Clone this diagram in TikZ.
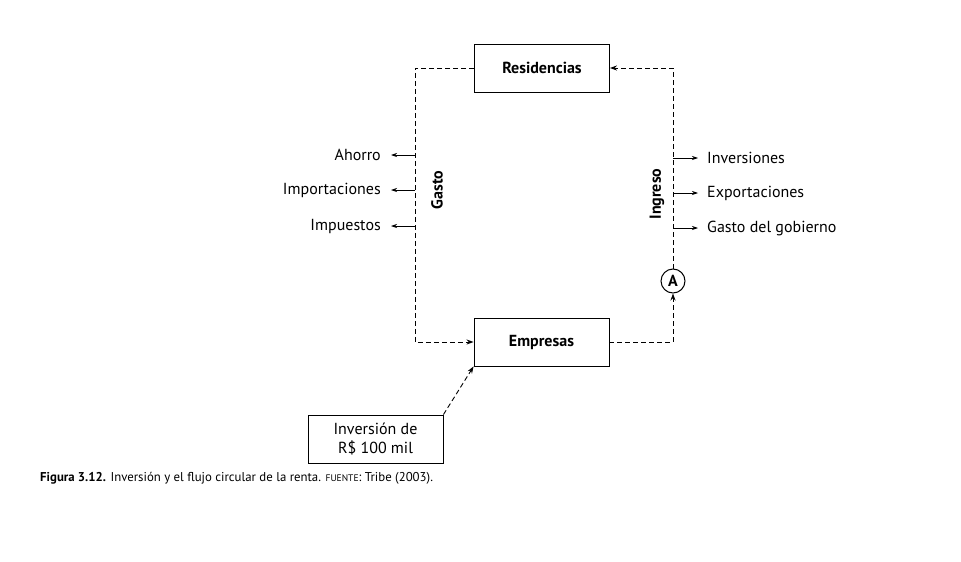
\documentclass[tikz,border=0pt]{standalone}
\usepackage{fontspec}
\setmainfont{PT Sans}
\usetikzlibrary{arrows.meta}
\begin{document}
\begin{tikzpicture}[x=1pt,y=-1pt,
  box/.style={draw,line width=0.9pt,minimum width=135pt,minimum height=48pt,inner sep=0pt,font=\fontsize{16}{19}\selectfont\bfseries},
  flow/.style={line width=0.9pt,dash pattern=on 5pt off 3pt,-{Stealth[length=7pt,width=5pt]}},
  small/.style={line width=0.7pt,-{Stealth[length=6pt,width=4pt]}},
  lbl/.style={font=\fontsize{16}{19}\selectfont,inner sep=0pt},
  side/.style={font=\fontsize{16}{19}\selectfont\bfseries,rotate=90,inner sep=0pt}]
\useasboundingbox (0,0) rectangle (961,562);
\node[box] (res) at (542,68) {Residencias};
\node[box] (emp) at (541.5,342) {Empresas};
\node[draw,line width=0.9pt,minimum width=135pt,minimum height=48pt,inner sep=0pt,align=center,font=\fontsize{16}{19}\selectfont] (inv) at (375.5,439) {Inversión de\\R\$ 100 mil};
\node[draw,circle,line width=1pt,minimum size=24pt,inner sep=0pt,font=\fontsize{16}{19}\selectfont\bfseries] (A) at (673,281) {A};
\coordinate (tl) at (415,68);
\coordinate (bl) at (415,342);
\coordinate (tr) at (673,68);
\coordinate (br) at (673,342);
\draw[flow] (res.west) -- (tl) -- (bl) -- (emp.west);
\draw[flow] (emp.east) -- (br) -- (A.south);
\draw[flow] (A.north) -- (tr) -- (res.east);
\draw[flow] (inv.north east) -- (emp.south west);
% left labels
\node[lbl,anchor=east] (ah) at (381,155) {Ahorro};
\node[lbl,anchor=east] (im) at (381,190) {Importaciones};
\node[lbl,anchor=east] (ip) at (381,226) {Impuestos};
\coordinate (l1) at (415,155);
\coordinate (l2) at (415,190);
\coordinate (l3) at (415,226);
\draw[small] (l1) -- ([xshift=10pt]ah.east);
\draw[small] (l2) -- ([xshift=10pt]im.east);
\draw[small] (l3) -- ([xshift=10pt]ip.east);
\node[side] (gasto) at (437,190) {Gasto};
% right labels
\node[lbl,anchor=west] (in) at (707,158) {Inversiones};
\node[lbl,anchor=west] (ex) at (707,193) {Exportaciones};
\node[lbl,anchor=west] (gg) at (707,228) {Gasto del gobierno};
\coordinate (r1) at (673,158);
\coordinate (r2) at (673,193);
\coordinate (r3) at (673,228);
\draw[small] (r1) -- ([xshift=-9pt]in.west);
\draw[small] (r2) -- ([xshift=-9pt]ex.west);
\draw[small] (r3) -- ([xshift=-9pt]gg.west);
\node[side] (ingreso) at (657,194) {Ingreso};
% caption
\node[anchor=west,inner sep=0pt,font=\fontsize{12.8}{15}\selectfont] (cap) at (40,478) {\textbf{Figura 3.12.} Inversión y el flujo circular de la renta. {\fontsize{9.5}{11}\selectfont FUENTE}: Tribe (2003).};
\end{tikzpicture}
\end{document}
